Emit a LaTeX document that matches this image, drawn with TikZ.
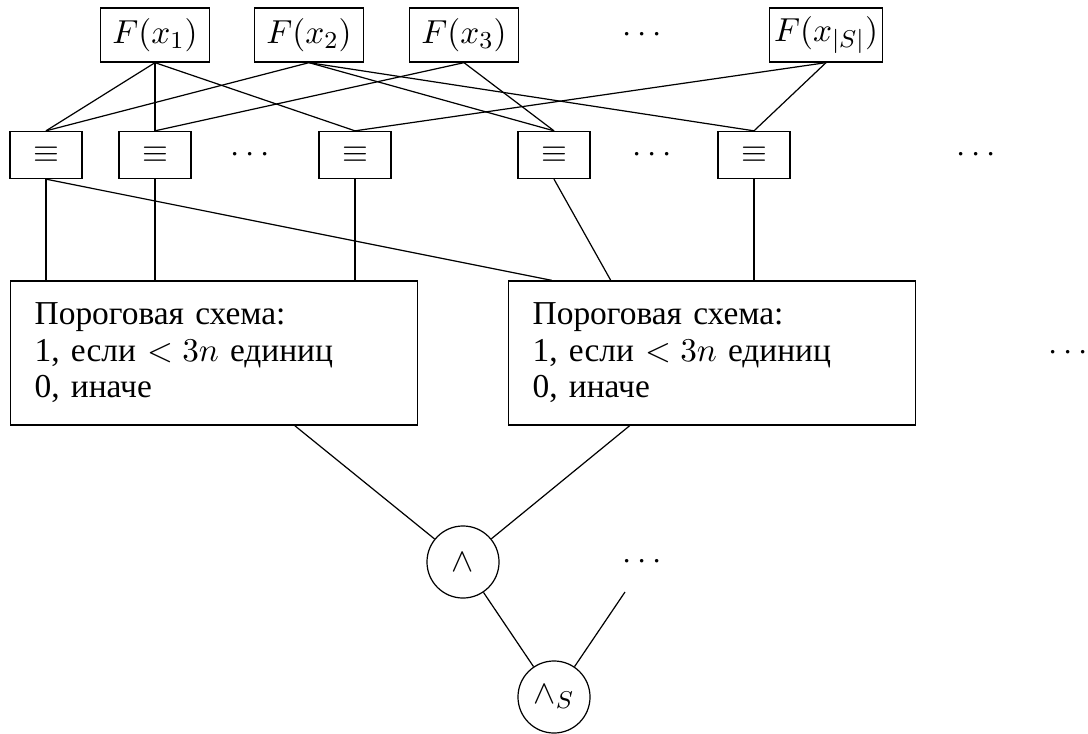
\documentclass[tikz,border=0pt]{standalone}
\usepackage{fontspec}
\newfontfamily\cyrfont{Liberation Serif}
\usetikzlibrary{calc}

\begin{document}
\begin{tikzpicture}[
    x=0.329pt, y=-0.329pt, font=\fontsize{11}{13}\selectfont,
    valbox/.style={draw, minimum width=35.9pt, minimum height=17.8pt, inner sep=1.5pt},
    eqbox/.style={draw, minimum width=23.7pt, minimum height=15.5pt},
    thrbox/.style={draw, align=left, text width=118pt, inner xsep=8pt, minimum height=47.4pt, font=\cyrfont\fontsize{11}{12}\selectfont},
    gate/.style={draw, circle, minimum size=23.7pt, inner sep=0pt}
]
\useasboundingbox (0,0) rectangle (1088,734);

\node[valbox] (f1) at (155,35) {$F(x_1)$};
\node[valbox] (f2) at (309,35) {$F(x_2)$};
\node[valbox] (f3) at (464,35) {$F(x_3)$};
\node (fdots) at (642,35) {$\cdots$};
\node[valbox] (fS) at (826,35) {$F(x_{|S|})$};

\node[eqbox] (e1) at (46,155) {$\equiv$};
\node[eqbox] (e2) at (155,155) {$\equiv$};
\node (edotsA) at (250,155) {$\cdots$};
\node[eqbox] (e3) at (355,155) {$\equiv$};
\node[eqbox] (e4) at (554,155) {$\equiv$};
\node (edotsB) at (652,155) {$\cdots$};
\node[eqbox] (e5) at (754,155) {$\equiv$};
\node (edotsC) at (976,155) {$\cdots$};

\node[thrbox] (thrA) at (214,353) {Пороговая схема:\\1, если $<3n$ единиц\\0, иначе};
\node[thrbox] (thrB) at (712,353) {Пороговая схема:\\1, если $<3n$ единиц\\0, иначе};
\node (thrdots) at (1068,353) {$\cdots$};

\node[gate] (and) at (463,562) {$\wedge$};
\node (anddots) at (642,562) {$\cdots$};
\node[gate] (andS) at (554,697) {$\wedge_S$};
\coordinate (anddotsEnd) at (625,592);

\foreach \a/\b in {f1/e1, f1/e2, f1/e3, f2/e1, f2/e4, f2/e5, f3/e2, f3/e4, fS/e3, fS/e5}
    \draw (\a.south) -- (\b.north);

\foreach \e in {e1, e2, e3}
    \draw (\e.south) -- (\e.south |- thrA.north);
\draw (e5.south) -- (e5.south |- thrB.north);
\draw (e1.south) -- ($(thrB.north west)+(44,0)$);
\draw (e4.south) -- ($(thrB.north west)+(103,0)$);

\draw ($(thrA.south west)+(285,0)$) -- (and);
\draw ($(thrB.south west)+(122,0)$) -- (and);
\draw (and) -- (andS);
\draw (anddotsEnd) -- (andS);

\end{tikzpicture}
\end{document}
